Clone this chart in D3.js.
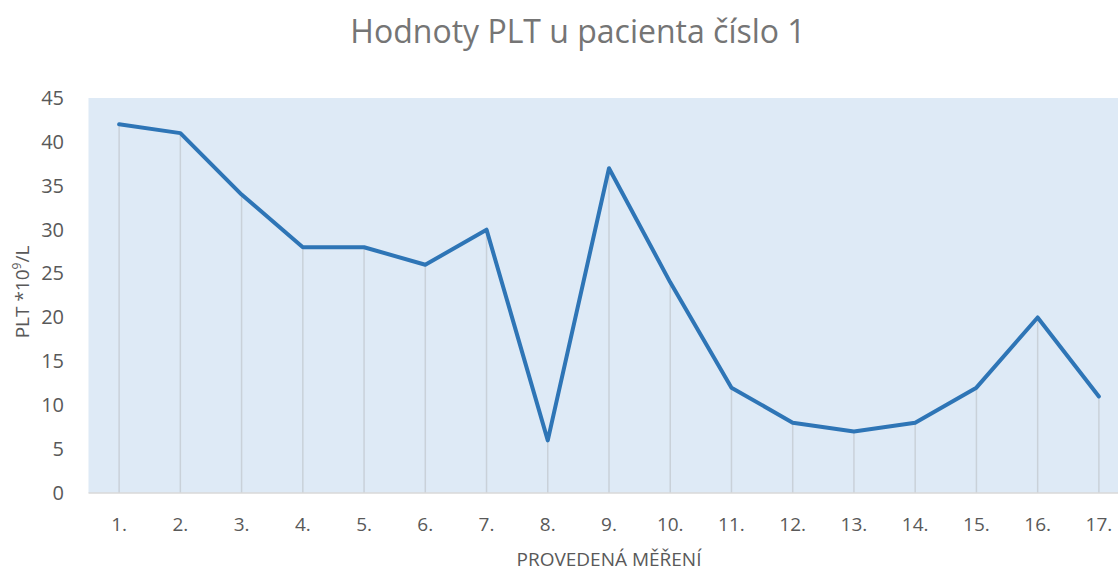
<!DOCTYPE html>
<html><head><meta charset="utf-8">
<script src="https://cdn.jsdelivr.net/npm/d3@7"></script>
<style>body{margin:0;background:#fff;}svg{display:block;font-family:"Open Sans","Liberation Sans",sans-serif;}</style>
</head><body>
<svg id="c" width="1118" height="571"></svg>
<script>
const categories = ["1.","2.","3.","4.","5.","6.","7.","8.","9.","10.","11.","12.","13.","14.","15.","16.","17."];
const values = [42,41,34,28,28,26,30,6,37,24,12,8,7,8,12,20,11];
const yTicks = [0,5,10,15,20,25,30,35,40,45];
const title = "Hodnoty PLT u pacienta číslo 1";
const xTitle = "PROVEDENÁ MĚŘENÍ";

(function(){
const svg = d3.select("#c");
const pL = 88.5, pR = 1129.5, pT = 98, pB = 493;
const x = d3.scaleBand().domain(categories).range([pL, pR]);
const y = d3.scaleLinear().domain([0,45]).range([pB, pT]);
const cx = d => x(d) + x.bandwidth()/2;

svg.append("rect").attr("x", pL).attr("y", pT).attr("width", pR-pL).attr("height", pB-pT).attr("fill", "#deeaf6");

svg.append("g").selectAll("line").data(categories).join("line")
  .attr("x1", d=>cx(d)).attr("x2", d=>cx(d))
  .attr("y1", (d,i)=>y(values[i])).attr("y2", y(0))
  .attr("stroke", "#c9d1d9").attr("stroke-width", 1.5);

svg.append("line").attr("x1", pL).attr("x2", pR).attr("y1", y(0)).attr("y2", y(0)).attr("stroke", "#d9d9d9").attr("stroke-width", 1.5);

const ya = svg.append("g").attr("transform", `translate(64,0)`).call(d3.axisLeft(y).tickValues(yTicks).tickSize(0).tickPadding(0));
ya.select(".domain").remove();
ya.selectAll("text").attr("font-size", 20).attr("fill", "#595959").attr("font-family", "Open Sans, Liberation Sans, sans-serif");

const xa = svg.append("g").attr("transform", `translate(0,${y(0)})`).call(d3.axisBottom(x).tickSize(0).tickPadding(25));
xa.select(".domain").remove();
xa.selectAll("text").attr("font-size", 19).attr("fill", "#595959").attr("font-family", "Open Sans, Liberation Sans, sans-serif");

const line = d3.line().x((d,i)=>cx(categories[i])).y(d=>y(d));
svg.append("path").datum(values).attr("d", line).attr("fill","none").attr("stroke","#2e75b6").attr("stroke-width",4).attr("stroke-linejoin","round").attr("stroke-linecap","round");

svg.append("text").attr("x", 578).attr("y", 43).attr("text-anchor","middle").attr("font-size", 32).attr("fill","#757575").text(title);
svg.append("text").attr("x", 609).attr("y", 566).attr("text-anchor","middle").attr("font-size", 19).attr("fill","#595959").text(xTitle);
const yt = svg.append("text").attr("transform","translate(29,292) rotate(-90)").attr("text-anchor","middle").attr("font-size",19).attr("fill","#595959");
yt.append("tspan").text("PLT *10");
yt.append("tspan").attr("font-size",12).attr("dy",-8).text("9");
yt.append("tspan").attr("dy",8).text("/L");
})();
</script>
</body></html>
